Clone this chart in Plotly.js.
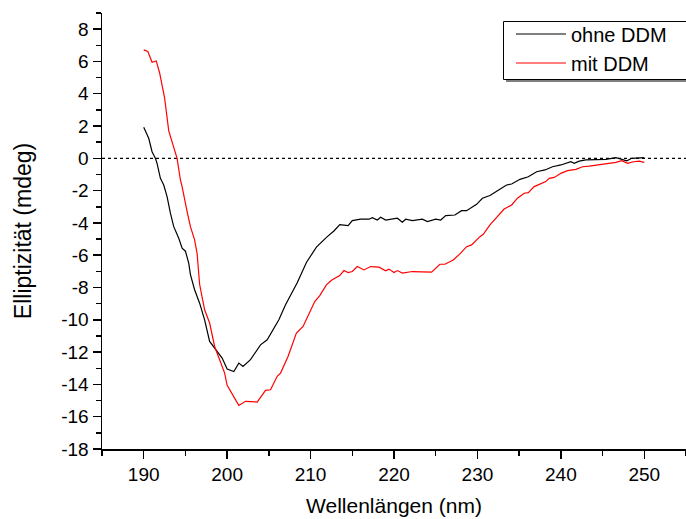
<!DOCTYPE html>
<html>
<head>
<meta charset="utf-8">
<script src="https://cdn.plot.ly/plotly-3.0.1.min.js"></script>
<style>html,body{margin:0;padding:0;background:#fff;}#chart{width:686px;height:519px;}</style>
</head>
<body>
<div id="chart"></div>
<script>
// Series: ohne DDM (black)
var ohneX = [190.0,190.6,191.0,191.4,191.6,192.0,192.4,192.8,193.2,193.6,194.2,194.6,195.0,195.2,195.4,195.6,196.1,196.7,197.3,197.9,198.5,199.1,199.4,200.0,200.8,201.4,201.9,202.8,204.0,204.8,206.2,207.0,208.4,209.5,210.7,212.0,212.8,213.5,214.5,215.0,216.0,217.0,217.4,218.0,218.4,219.0,220.4,221.0,221.4,222.2,223.4,224.0,225.0,225.6,226.2,227.3,228.1,228.7,229.9,230.6,231.5,232.4,233.5,234.1,235.1,236.1,237.1,238.1,239.0,240.0,240.6,241.2,241.6,242.2,243.0,244.2,245.4,246.6,247.3,247.9,248.5,249.3,250.0];
var ohneY = [1.92,1.24,0.41,0.0,-0.31,-1.24,-1.65,-2.37,-3.4,-4.23,-4.95,-5.57,-5.75,-6.08,-6.5,-7.2,-8.14,-8.97,-10.0,-11.34,-11.75,-12.16,-12.37,-13.05,-13.2,-12.68,-12.89,-12.47,-11.55,-11.24,-10.0,-9.07,-7.7,-6.45,-5.5,-4.85,-4.5,-4.1,-4.17,-3.86,-3.77,-3.77,-3.67,-3.82,-3.65,-3.82,-3.71,-3.96,-3.77,-3.86,-3.77,-3.92,-3.77,-3.82,-3.55,-3.51,-3.24,-3.24,-2.85,-2.47,-2.3,-2.0,-1.65,-1.59,-1.3,-1.14,-0.83,-0.72,-0.52,-0.41,-0.31,-0.21,-0.31,-0.17,-0.1,-0.06,-0.06,0.04,-0.04,-0.15,0.0,0.0,0.04];
// Series: mit DDM (red)
var mitX = [190.0,190.5,191.0,191.5,191.9,192.5,193.0,193.5,194.0,194.4,194.6,195.2,195.6,196.1,196.4,196.7,197.3,197.9,198.5,199.1,199.7,200.0,200.8,201.4,202.2,203.2,203.6,204.6,205.2,206.0,206.4,207.3,208.3,209.1,210.5,211.1,211.9,212.5,212.9,213.5,214.0,214.5,215.0,215.6,216.4,217.2,218.2,219.0,219.4,220.0,220.4,221.0,222.2,223.4,224.5,225.5,226.1,227.1,227.9,228.7,229.3,230.3,230.7,231.5,232.3,233.2,234.1,234.8,235.6,236.1,236.8,237.6,238.2,238.6,239.2,240.0,240.8,241.8,242.6,243.4,244.4,245.4,246.6,247.3,248.0,248.7,249.4,250.0];
var mitY = [6.72,6.62,5.95,6.03,5.3,3.75,1.7,0.8,0.0,-1.34,-1.75,-3.3,-4.23,-5.05,-5.9,-7.8,-9.38,-10.2,-11.65,-12.47,-13.3,-14.06,-14.74,-15.3,-15.05,-15.05,-15.09,-14.37,-14.33,-13.5,-13.3,-12.27,-10.82,-10.41,-8.87,-8.5,-7.84,-7.55,-7.42,-7.26,-6.95,-7.07,-7.01,-6.7,-6.91,-6.7,-6.74,-6.97,-6.86,-7.07,-6.95,-7.11,-7.01,-7.01,-7.05,-6.56,-6.56,-6.29,-5.92,-5.47,-5.36,-4.85,-4.7,-4.12,-3.65,-3.14,-2.89,-2.47,-2.16,-2.12,-1.75,-1.55,-1.44,-1.24,-1.18,-0.93,-0.76,-0.68,-0.52,-0.48,-0.41,-0.31,-0.25,-0.15,-0.31,-0.21,-0.17,-0.25];
var seriesNames = ["ohne DDM", "mit DDM"];
var xTitle = "Wellenlängen (nm)";
var yTitle = "Elliptizität (mdeg)";
var yTickVals = [-18,-16,-14,-12,-10,-8,-6,-4,-2,0,2,4,6,8];
var yTickText = ["-18","-16","-14","-12","-10","-8","-6","-4","-2","0","2","4","6","8"];
var xTickVals = [190,200,210,220,230,240,250];
var xTickText = ["190","200","210","220","230","240","250"];

var FONT = "Liberation Sans, Arial, sans-serif";
var traces = [
  {x: ohneX, y: ohneY, name: seriesNames[0], type: "scatter", mode: "lines", line: {color: "#000000", width: 1.2}},
  {x: mitX, y: mitY, name: seriesNames[1], type: "scatter", mode: "lines", line: {color: "#ff0000", width: 1.2}}
];
var axisCommon = {
  showline: true, linecolor: "#000", linewidth: 1.5, mirror: false,
  ticks: "outside", ticklen: 8, tickwidth: 1.5, tickcolor: "#000",
  showgrid: false, zeroline: false,
  tickfont: {family: FONT, size: 19, color: "#000"}
};
// plot area in px: x 102..686, y 13..449  -> paper coords
function px2paperX(px) { return (px - 102) / 584; }
function px2paperY(py) { return (449 - py) / 436; }
var layout = {
  width: 686, height: 519,
  margin: {l: 102, r: 0, t: 13, b: 70, pad: 0},
  paper_bgcolor: "#fff", plot_bgcolor: "#fff",
  font: {family: FONT, color: "#000"},
  showlegend: true,
  xaxis: Object.assign({}, axisCommon, {
    range: [185, 255], tickmode: "array", tickvals: xTickVals, ticktext: xTickText,
    minor: {dtick: 5, tick0: 185, ticks: "outside", ticklen: 5, tickwidth: 1.5, tickcolor: "#000"},
    title: {text: xTitle, font: {family: FONT, size: 21, color: "#000"}, standoff: 14}
  }),
  yaxis: Object.assign({}, axisCommon, {
    range: [-18, 9], tickmode: "array", tickvals: yTickVals, ticktext: yTickText,
    minor: {dtick: 1, tick0: 0, ticks: "outside", ticklen: 5, tickwidth: 1.5, tickcolor: "#000"},
    title: {text: yTitle, font: {family: FONT, size: 23, color: "#000"}, standoff: 23}
  }),
  legend: {
    x: px2paperX(511), y: px2paperY(14.5), xanchor: "left", yanchor: "top",
    bgcolor: "rgba(0,0,0,0)", borderwidth: 0,
    font: {family: FONT, size: 20, color: "#000"},
    itemwidth: 50
  },
  shapes: [
    {type: "line", xref: "paper", yref: "y", x0: 0, x1: 1, y0: 0, y1: 0,
     line: {color: "#000", width: 1.2, dash: "dot"}, layer: "below"},
    // legend shadow
    {type: "rect", xref: "paper", yref: "paper", x0: px2paperX(506), x1: 1.02, y0: px2paperY(82), y1: px2paperY(76),
     fillcolor: "#7f7f7f", line: {width: 0}, layer: "above"},
    // legend frame
    {type: "rect", xref: "paper", yref: "paper", x0: px2paperX(503.5), x1: 1.02, y0: px2paperY(79.5), y1: px2paperY(21.5),
     fillcolor: "#ffffff", line: {color: "#000", width: 1}, layer: "above"}
  ]
};
Plotly.newPlot("chart", traces, layout, {displayModeBar: false, staticPlot: true});
</script>
</body>
</html>
